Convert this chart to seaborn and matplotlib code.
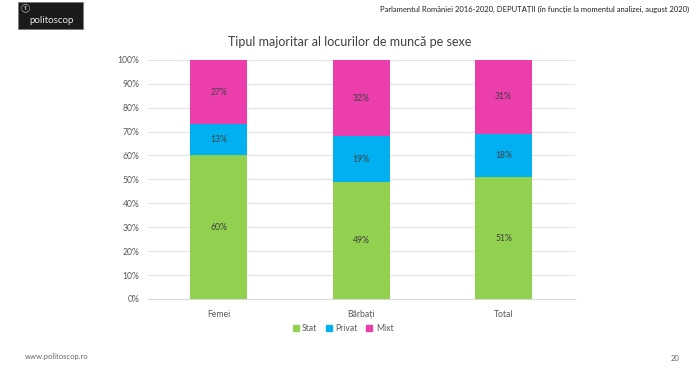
import numpy as np
import pandas as pd
import matplotlib
matplotlib.use("Agg")
import matplotlib.pyplot as plt
import seaborn as sns
from matplotlib.patches import Rectangle, Patch

categories = ["Femei", "Bărbați", "Total"]
stat = [60, 49, 51]
privat = [13, 19, 18]
mixt = [27, 32, 31]
series_names = ["Stat", "Privat", "Mixt"]
colors = ["#92D050", "#00B0F0", "#EB3DAB"]
yticks = list(range(0, 101, 10))

sns.set_style("white")
plt.rcParams["font.family"] = ["Lato", "DejaVu Sans"]

fig = plt.figure(figsize=(7, 3.68), dpi=100)
ax = fig.add_axes([0.211, 0.1875, 0.61, 0.65])

df = pd.DataFrame({"cat": categories, "Stat": stat, "Privat": privat, "Mixt": mixt})
# cumulative tops, drawn from the tallest down
df["c_stat"] = df["Stat"]
df["c_privat"] = df["Stat"] + df["Privat"]
df["c_mixt"] = df["c_privat"] + df["Mixt"]

for col, c in zip(["c_mixt", "c_privat", "c_stat"], colors[::-1]):
    sns.barplot(data=df, x="cat", y=col, color=c, width=0.4, ax=ax,
                saturation=1, zorder=3, linewidth=0, edgecolor=c)

# segment labels
for i in range(len(categories)):
    bottoms = [0, stat[i], stat[i] + privat[i]]
    for b, v in zip(bottoms, [stat[i], privat[i], mixt[i]]):
        ax.text(i, b + v / 2, f"{v}%", ha="center", va="center",
                fontsize=6.2, color="#404040", zorder=4)

ax.set_ylim(0, 100)
ax.set_xlim(-0.5, 2.5)
ax.set_yticks(yticks)
ax.set_yticklabels([f"{t}%" for t in yticks])
ax.yaxis.grid(True, color="#e4e4e4", lw=0.8, zorder=0)
ax.set_axisbelow(True)
for s in ax.spines.values():
    s.set_visible(False)
ax.spines["bottom"].set_visible(True)
ax.spines["bottom"].set_color("#d9d9d9")
ax.tick_params(axis="both", length=0, labelsize=6.2, colors="#595959", pad=8)
ax.tick_params(axis="y", pad=6)
ax.set_xlabel("")
ax.set_ylabel("")

handles = [Patch(color=c, label=n) for c, n in zip(colors, series_names)]
fig.legend(handles=handles, loc="center", bbox_to_anchor=(0.49, 0.108), ncol=3,
           frameon=False, fontsize=6.2, handlelength=0.7, handleheight=0.7,
           handletextpad=0.4, columnspacing=1.0, labelcolor="#595959")

fig.text(0.5, 0.885, "Tipul majoritar al locurilor de muncă pe sexe",
         ha="center", va="center", fontsize=9, color="#404040")

fig.text(0.985, 0.975,
         "Parlamentul României 2016-2020, DEPUTAȚII (în funcție la momentul analizei, august 2020)",
         ha="right", va="center", fontsize=5.5, color="#222222")

# logo block
fig.patches.append(Rectangle((0.026, 0.922), 0.092, 0.073, transform=fig.transFigure,
                             facecolor="#1a1a1a", edgecolor="#777777", lw=0.5))
fig.text(0.074, 0.945, "politoscop", ha="center", va="center", fontsize=7,
         color="#e8e8e8")
fig.text(0.036, 0.975, "①", ha="center", va="center", fontsize=6,
         color="#e8e8e8")

fig.text(0.036, 0.03, "www.politoscop.ro", ha="left", va="center",
         fontsize=5.5, color="#666666")
fig.text(0.97, 0.025, "20", ha="right", va="center", fontsize=5.5,
         color="#666666")

fig.savefig("out.png", dpi=100)
